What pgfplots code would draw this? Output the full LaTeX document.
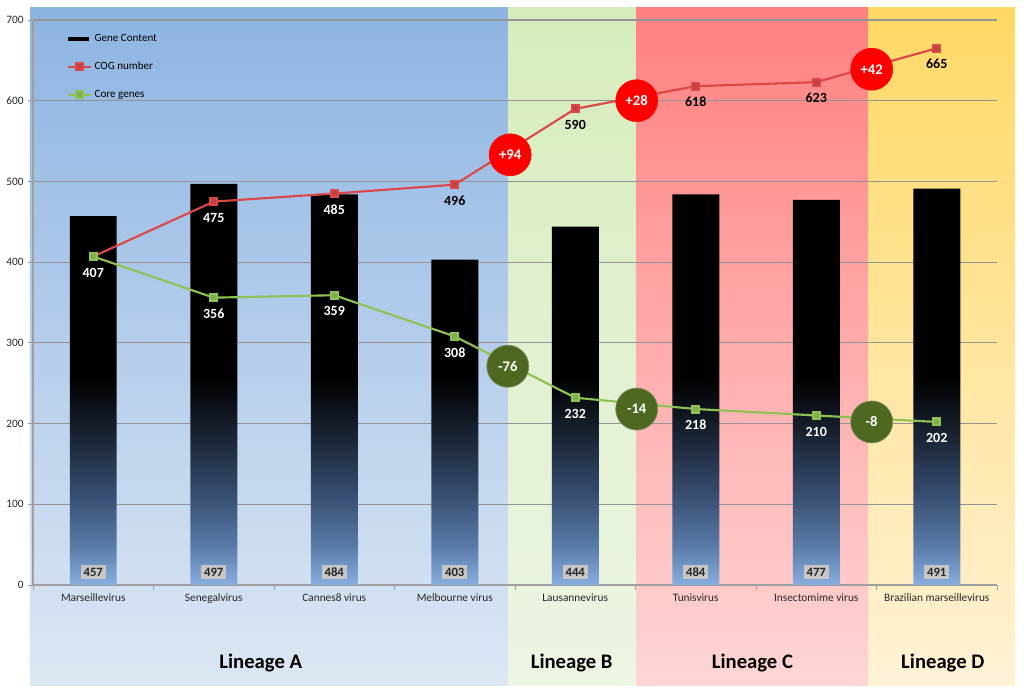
\documentclass[border=0pt]{standalone}
\usepackage{fontspec}
\setmainfont{Carlito}
\usepackage{pgfplots}
\pgfplotsset{compat=1.18}

\definecolor{aTop}{RGB}{141,180,226}
\definecolor{aBot}{RGB}{221,231,244}
\definecolor{bTop}{RGB}{214,236,188}
\definecolor{bBot}{RGB}{237,245,228}
\definecolor{cTop}{RGB}{255,128,128}
\definecolor{cBot}{RGB}{255,214,214}
\definecolor{dTop}{RGB}{255,216,100}
\definecolor{dBot}{RGB}{255,242,214}
\definecolor{cogRed}{RGB}{219,72,72}
\definecolor{coreGreen}{RGB}{143,193,84}
\definecolor{circRed}{RGB}{255,0,0}
\definecolor{circGreen}{RGB}{79,104,33}
\definecolor{barB0}{RGB}{136,174,224}
\definecolor{barB1}{RGB}{88,122,166}
\definecolor{barB2}{RGB}{52,73,106}
\definecolor{barB3}{RGB}{24,34,48}
\definecolor{txt}{RGB}{38,38,38}

% bar fill: blue at the foot, black from half height up
\pgfdeclareverticalshading{barshade}{100bp}{color(0bp)=(barB0); color(25bp)=(barB0); color(30bp)=(barB1); color(37bp)=(barB2); color(44bp)=(barB3); color(51bp)=(black); color(100bp)=(black)}

\begin{document}
\begin{tikzpicture}
\begin{axis}[
    set layers,
    scale only axis,
    width=723pt, height=423.75pt,
    xmin=-0.5, xmax=7.5, ymin=0, ymax=700,
    clip=false,
    axis x line*=bottom, axis y line*=left,
    axis line style={draw=gray!75, line width=0.8pt, -},
    ytick={0,100,...,700},
    ymajorgrids,
    grid style={draw=gray!85, line width=0.9pt},
    xtick={-0.5,0.5,...,7.5},
    xticklabels={},
    extra x ticks={0,1,...,7},
    extra x tick labels={Marseillevirus,Senegalvirus,Cannes8 virus,Melbourne virus,Lausannevirus,Tunisvirus,Insectomime virus,Brazilian marseillevirus},
    extra x tick style={major tick length=0pt},
    tick align=outside,
    major tick length=3.5pt,
    tick style={draw=gray!75, line width=0.6pt},
    /pgf/number format/assume math mode=true,
    yticklabel style={font=\fontsize{8.5}{10}\selectfont, text=txt},
    xticklabel style={font=\fontsize{8.5}{10}\selectfont, text=txt, yshift=-3pt},
    legend style={at={(rel axis cs:0.03,0.985)}, anchor=north west, draw=none, fill=none,
        font=\fontsize{8.3}{9}\selectfont, row sep=10pt, cells={anchor=west}},
]
% lineage backgrounds
\addplot[on layer=axis background, draw=none, top color=aTop, bottom color=aBot, forget plot]
    coordinates {(-0.525,-124) (3.442,-124) (3.442,716) (-0.525,716) (-0.525,-124)};
\addplot[on layer=axis background, draw=none, top color=bTop, bottom color=bBot, forget plot]
    coordinates {(3.442,-124) (4.505,-124) (4.505,716) (3.442,716) (3.442,-124)};
\addplot[on layer=axis background, draw=none, top color=cTop, bottom color=cBot, forget plot]
    coordinates {(4.505,-124) (6.430,-124) (6.430,716) (4.505,716) (4.505,-124)};
\addplot[on layer=axis background, draw=none, top color=dTop, bottom color=dBot, forget plot]
    coordinates {(6.430,-124) (7.650,-124) (7.650,716) (6.430,716) (6.430,-124)};

% gene content
\addplot[ybar, bar width=0.39, draw=none, shading=barshade,
    legend image code/.code={\draw[black, line width=3pt] (0cm,0cm) -- (0.55cm,0cm);}]
    coordinates {(0,457) (1,497) (2,484) (3,403) (4,444) (5,484) (6,477) (7,491)};
\addlegendentry{Gene Content}

% COG number
\addplot[cogRed, line width=1.6pt, mark=square*, mark size=2.6pt, mark options={fill=cogRed!90!black, draw=none}]
    coordinates {(0,407) (1,475) (2,485) (3,496) (4,590) (5,618) (6,623) (7,665)};
\addlegendentry{COG number}

% core genes
\addplot[coreGreen, line width=1.6pt, mark=square*, mark size=2.6pt, mark options={fill=coreGreen!90!black, draw=none}]
    coordinates {(0,407) (1,356) (2,359) (3,308) (4,232) (5,218) (6,210) (7,202)};
\addlegendentry{Core genes}

% value labels
\pgfplotsset{vlab/.style={draw=none, no markers, forget plot, nodes near coords, point meta=explicit symbolic,
    nodes near coords style={anchor=center, yshift=-12pt, font=\fontsize{10.5}{12}\selectfont\bfseries, text=#1}}}
\addplot[vlab=white] coordinates {(0,407)[407] (1,475)[475] (2,485)[485]};
\addplot[vlab=black] coordinates {(3,496)[496] (4,590)[590] (5,618)[618] (6,623)[623] (7,665)[665]};
\addplot[vlab=white] coordinates {(1,356)[356] (2,359)[359] (3,308)[308] (4,232)[232] (5,218)[218] (6,210)[210] (7,202)[202]};

% totals in grey boxes
\addplot[draw=none, no markers, forget plot, nodes near coords, point meta=explicit symbolic,
    nodes near coords style={anchor=center, fill=gray!45, inner sep=2.2pt, text=txt,
    font=\fontsize{9.5}{11}\selectfont\bfseries}]
    coordinates {(0,16)[457] (1,16)[497] (2,16)[484] (3,16)[403] (4,16)[444] (5,16)[484] (6,16)[477] (7,16)[491]};

% gains and losses
\addplot[circRed, only marks, mark=*, mark size=15.75pt, mark options={fill=circRed, draw=circRed}, forget plot,
    nodes near coords, point meta=explicit symbolic,
    nodes near coords style={anchor=center, text=white, font=\fontsize{11}{13}\selectfont\bfseries}]
    coordinates {(3.46,533)[+94] (4.51,600)[+28] (6.46,639)[+42]};
\addplot[circGreen, only marks, mark=*, mark size=15.75pt, mark options={fill=circGreen, draw=circGreen!75!white, line width=0.5pt}, forget plot,
    nodes near coords, point meta=explicit symbolic,
    nodes near coords style={anchor=center, text=white, font=\fontsize{11}{13}\selectfont\bfseries}]
    coordinates {(3.44,271)[-76] (4.51,218)[-14] (6.46,202)[-8]};

% lineage names
\node[font=\fontsize{15.5}{18}\selectfont\bfseries, text=black] at (axis cs:1.39,-96.7) {Lineage A};
\node[font=\fontsize{15.5}{18}\selectfont\bfseries, text=black] at (axis cs:3.97,-96.7) {Lineage B};
\node[font=\fontsize{15.5}{18}\selectfont\bfseries, text=black] at (axis cs:5.47,-96.7) {Lineage C};
\node[font=\fontsize{15.5}{18}\selectfont\bfseries, text=black] at (axis cs:7.05,-96.7) {Lineage D};

\path ([xshift=-24.75pt,yshift=-78.75pt]rel axis cs:0,0) rectangle ([xshift=20.25pt,yshift=15pt]rel axis cs:1,1);
\end{axis}
\end{tikzpicture}
\end{document}
